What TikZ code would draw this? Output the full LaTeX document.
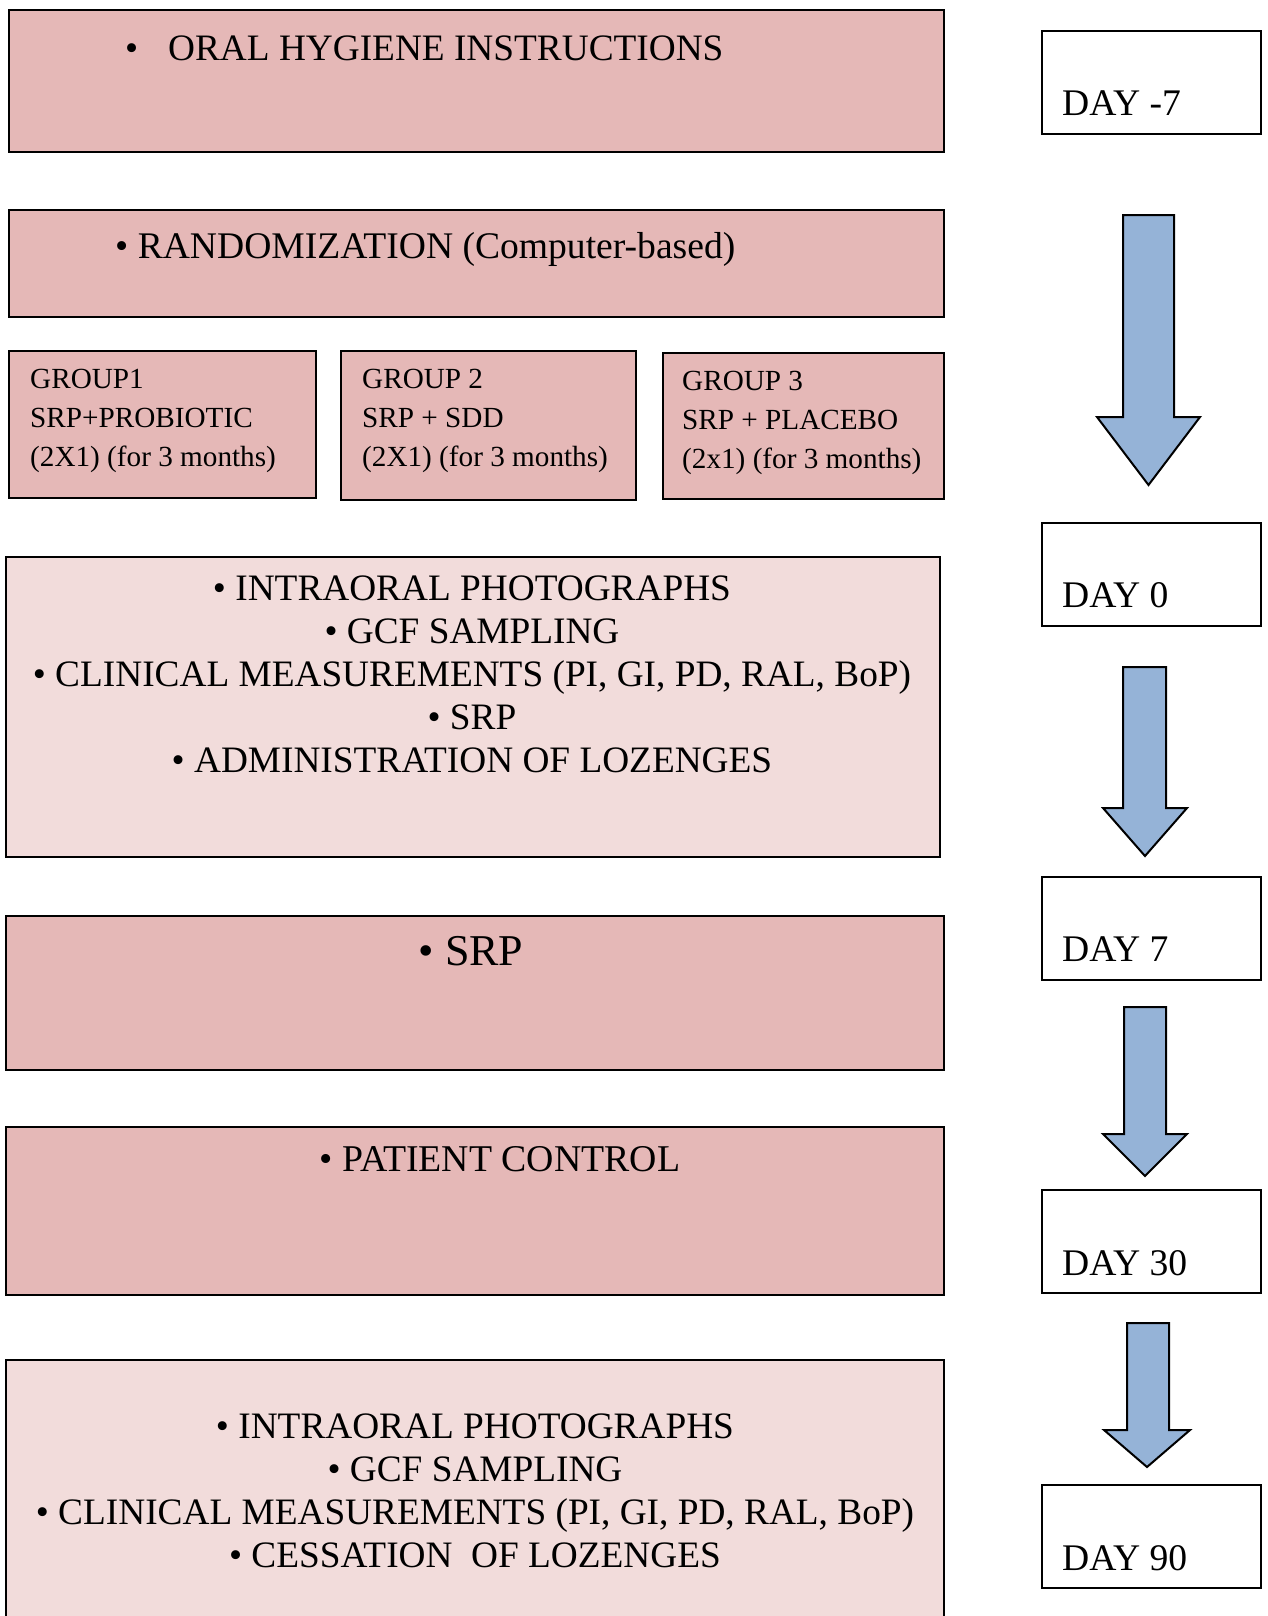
\documentclass[tikz,border=0pt]{standalone}
\usepackage{fontspec}
\setmainfont{Liberation Serif}
\definecolor{pinkdark}{HTML}{E5B8B7}
\definecolor{pinklight}{HTML}{F2DCDB}
\definecolor{arrowblue}{HTML}{95B3D7}
\tikzset{
  darkbox/.style={draw=black, line width=2pt, fill=pinkdark, rectangle, inner sep=0pt, anchor=north west},
  lightbox/.style={draw=black, line width=2pt, fill=pinklight, rectangle, inner sep=0pt, anchor=north west},
  daybox/.style={draw=black, line width=2pt, fill=white, rectangle, inner sep=0pt, anchor=north west},
  bigtxt/.style={inner sep=0pt, font=\fontsize{37.3}{43}\selectfont},
  daytxt/.style={inner sep=0pt, anchor=base west, font=\fontsize{37.6}{43}\selectfont},
  grptxt/.style={inner sep=0pt, anchor=base west, font=\fontsize{29.2}{38}\selectfont},
  srptxt/.style={inner sep=0pt, font=\fontsize{44}{50}\selectfont},
  blockarrowstyle/.style={draw=black, line width=2pt, fill=arrowblue, line join=miter},
}
% name, style, x1, y1, x2, y2
\newcommand\mkbox[6]{\node[#2, minimum width={#5-#3}, minimum height={#6-#4}] (#1) at (#3,#4) {};}
% shaft left, shaft right, top, head y, head left, head right, tip y
\newcommand\mkarrow[7]{\draw[blockarrowstyle] (#1,#3) -- (#2,#3) -- (#2,#4) -- (#6,#4) -- ({(#5+#6)/2},#7) -- (#5,#4) -- (#1,#4) -- cycle;}
\begin{document}
\begin{tikzpicture}[x=1pt,y=-1pt]
\useasboundingbox (0,0) rectangle (1268,1616);
\fill[white] (0,0) rectangle (1268,1616);

% left column boxes
\mkbox{ohi}{darkbox}{8}{9}{943}{151}
\mkbox{rand}{darkbox}{8}{209}{943}{316}
\mkbox{g1}{darkbox}{8}{350}{315}{497}
\mkbox{g2}{darkbox}{340}{350}{635}{499}
\mkbox{g3}{darkbox}{662}{352}{943}{498}
\mkbox{visit0}{lightbox}{5}{556}{939}{856}
\mkbox{srpbox}{darkbox}{5}{915}{943}{1069}
\mkbox{ctrl}{darkbox}{5}{1126}{943}{1294}
\mkbox{visit90}{lightbox}{5}{1359}{943}{1630}

% day boxes
\mkbox{dm7}{daybox}{1041}{30}{1260}{133}
\mkbox{d0}{daybox}{1041}{522}{1260}{625}
\mkbox{d7}{daybox}{1041}{876}{1260}{979}
\mkbox{d30}{daybox}{1041}{1189}{1260}{1292}
\mkbox{d90}{daybox}{1041}{1484}{1260}{1587}

% block arrows
\mkarrow{1123}{1174}{215}{417}{1097}{1200}{485}
\mkarrow{1123}{1166}{667}{808}{1103}{1187}{856}
\mkarrow{1124}{1166}{1007}{1134}{1103}{1187}{1176}
\mkarrow{1127}{1169}{1323}{1430}{1104}{1190}{1467}

% texts
\node[bigtxt, anchor=base west] (tohi) at (125,61) {\makebox[43pt][l]{•}ORAL HYGIENE INSTRUCTIONS};
\node[bigtxt, anchor=base west, font=\fontsize{37.6}{43}\selectfont] (trand) at (115,258) {• RANDOMIZATION (Computer-based)};

\node[grptxt] (g1a) at (30,388) {GROUP1};
\node[grptxt] (g1b) at (30,427) {SRP+PROBIOTIC};
\node[grptxt] (g1c) at (30,466) {(2X1) (for 3 months)};
\node[grptxt] (g2a) at (362,388) {GROUP 2};
\node[grptxt] (g2b) at (362,427) {SRP + SDD};
\node[grptxt] (g2c) at (362,466) {(2X1) (for 3 months)};
\node[grptxt] (g3a) at (682,390) {GROUP 3};
\node[grptxt] (g3b) at (682,429) {SRP + PLACEBO};
\node[grptxt] (g3c) at (682,468) {(2x1) (for 3 months)};

\node[bigtxt, anchor=base] (v0a) at (472,600) {• INTRAORAL PHOTOGRAPHS};
\node[bigtxt, anchor=base] (v0b) at (472,643) {• GCF SAMPLING};
\node[bigtxt, anchor=base] (v0c) at (472,686) {• CLINICAL MEASUREMENTS (PI, GI, PD, RAL, BoP)};
\node[bigtxt, anchor=base] (v0d) at (472,729) {• SRP};
\node[bigtxt, anchor=base] (v0e) at (472,772) {• ADMINISTRATION OF LOZENGES};

\node[srptxt, anchor=base] (tsrp) at (471,965) {• SRP};
\node[bigtxt, anchor=base, font=\fontsize{37.8}{43}\selectfont] (tctrl) at (500,1171) {• PATIENT CONTROL};

\node[bigtxt, anchor=base] (v9a) at (475,1438) {• INTRAORAL PHOTOGRAPHS};
\node[bigtxt, anchor=base] (v9b) at (475,1481) {• GCF SAMPLING};
\node[bigtxt, anchor=base] (v9c) at (475,1524) {• CLINICAL MEASUREMENTS (PI, GI, PD, RAL, BoP)};
\node[bigtxt, anchor=base] (v9d) at (475,1567) {• CESSATION\ \ OF LOZENGES};

\node[daytxt] (tdm7) at (1062,116) {DAY -7};
\node[daytxt] (td0) at (1062,607) {DAY 0};
\node[daytxt] (td7) at (1062,961) {DAY 7};
\node[daytxt] (td30) at (1062,1275) {DAY 30};
\node[daytxt] (td90) at (1062,1570) {DAY 90};
\end{tikzpicture}
\end{document}
